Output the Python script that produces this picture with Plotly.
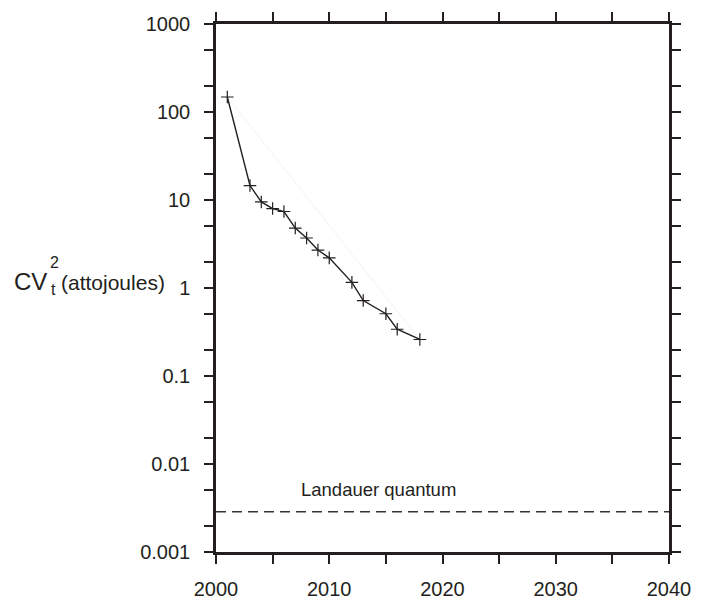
import plotly.graph_objects as go

# Switching energy CV_t^2 of logic gates, by year
years = [2001, 2003, 2004, 2005, 2006, 2007, 2008, 2009, 2010, 2012, 2013, 2015, 2016, 2018]
energy_aj = [148, 14.6, 9.5, 8.0, 7.4, 4.8, 3.7, 2.7, 2.2, 1.16, 0.72, 0.51, 0.34, 0.26]

# Landauer limit kT ln2 at room temperature, in attojoules
landauer_aj = 0.00287
landauer_label = "Landauer quantum"

x_range = [2000, 2040]
x_tick_vals = [2000, 2005, 2010, 2015, 2020, 2025, 2030, 2035, 2040]
x_tick_text = ["2000", "", "2010", "", "2020", "", "2030", "", "2040"]

y_tick_vals = [0.001, 0.002, 0.005, 0.01, 0.02, 0.05, 0.1, 0.2, 0.5,
               1, 2, 5, 10, 20, 50, 100, 200, 500, 1000]
y_tick_text = ["0.001", "", "", "0.01", "", "", "0.1", "", "",
               "1", "", "", "10", "", "", "100", "", "", "1000"]

INK = "#231f20"
FONT = "Liberation Sans, Arial, sans-serif"

W, H = 703, 612
L, R, T, B = 216, 25, 20, 40
plot_w = W - L - R
plot_h = H - T - B


def px_x(px):
    return (px - L) / plot_w


def px_y(py):
    return (H - B - py) / plot_h


fig = go.Figure()

# faint straight trend between the first and last measurement
fig.add_trace(go.Scatter(
    x=[years[0], years[-1]], y=[energy_aj[0], energy_aj[-1]],
    mode="lines", line=dict(color="rgba(0,0,0,0.05)", width=1),
    hoverinfo="skip", showlegend=False))

# Landauer limit, dashed across the full range
fig.add_trace(go.Scatter(
    x=x_range, y=[landauer_aj, landauer_aj],
    mode="lines", line=dict(color="#333333", width=1.4, dash="10px,6px"),
    showlegend=False))

fig.add_trace(go.Scatter(
    x=years, y=energy_aj, mode="lines+markers",
    line=dict(color=INK, width=1.4),
    marker=dict(symbol="cross-thin", size=9, line=dict(color=INK, width=1.2)),
    showlegend=False))

axis_common = dict(
    showline=True, linewidth=2.5, linecolor=INK, mirror="ticks",
    ticks="outside", ticklen=9, tickwidth=2.2, tickcolor=INK,
    showgrid=False, zeroline=False,
    tickfont=dict(family=FONT, size=20, color=INK),
)

fig.update_xaxes(range=x_range, tickmode="array", tickvals=x_tick_vals,
                 ticktext=x_tick_text, ticklabelstandoff=8, **axis_common)
fig.update_yaxes(type="log", range=[-3, 3], tickmode="array", tickvals=y_tick_vals,
                 ticktext=y_tick_text, ticklabelstandoff=10, **axis_common)

cv_font = dict(family=FONT, size=24, color=INK)
unit_font = dict(family=FONT, size=21, color=INK)
small_font = dict(family=FONT, size=16, color=INK)
annotations = [
    dict(text="CV", x=px_x(46), y=px_y(289), xref="paper", yref="paper",
         xanchor="right", yanchor="middle", showarrow=False, font=cv_font),
    dict(text="2", x=px_x(45), y=px_y(269), xref="paper", yref="paper",
         xanchor="left", yanchor="middle", showarrow=False, font=small_font),
    dict(text="t", x=px_x(46), y=px_y(298), xref="paper", yref="paper",
         xanchor="left", yanchor="middle", showarrow=False, font=small_font),
    dict(text="(attojoules)", x=px_x(56), y=px_y(290), xref="paper", yref="paper",
         xanchor="left", yanchor="middle", showarrow=False, font=unit_font),
    dict(text=landauer_label, x=2007.3, y=px_y(507), xref="x", yref="paper",
         xanchor="left", yanchor="middle", showarrow=False,
         font=dict(family=FONT, size=18.5, color=INK)),
]

fig.update_layout(
    width=W, height=H,
    margin=dict(l=L, r=R, t=T, b=B, pad=0),
    paper_bgcolor="white", plot_bgcolor="white",
    annotations=annotations,
)

fig.write_html("out.html")
